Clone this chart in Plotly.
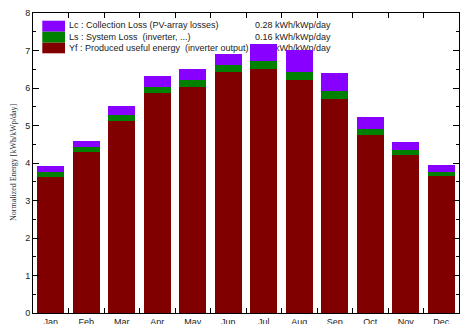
import plotly.graph_objects as go

months = ["Jan", "Feb", "Mar", "Apr", "May", "Jun", "Jul", "Aug", "Sep", "Oct", "Nov", "Dec"]
yf = [3.63, 4.30, 5.11, 5.86, 6.03, 6.42, 6.52, 6.22, 5.71, 4.75, 4.22, 3.66]
ls = [0.12, 0.13, 0.16, 0.18, 0.19, 0.20, 0.20, 0.20, 0.20, 0.15, 0.14, 0.11]
lc = [0.18, 0.17, 0.25, 0.29, 0.29, 0.29, 0.46, 0.59, 0.48, 0.34, 0.20, 0.19]

legend_labels = ["Lc : Collection Loss (PV-array losses)",
                 "Ls : System Loss  (inverter, ...)",
                 "Yf : Produced useful energy  (inverter output)"]
legend_values = ["0.28 kWh/kWp/day", "0.16 kWh/kWp/day", "5.20 kWh/kWp/day"]
colors = ["#8800ff", "#008000", "#800000"]

W, H = 461, 324
L, R, T, B = 33, 2, 13, 11
pw, ph = W - L - R, H - T - B

def px_x(p):
    return (p - L) / pw

def px_y(p):
    return (H - B - p) / ph

fig = go.Figure()

# legend text on base axes (drawn beneath the bars)
row_y = [px_y(26), px_y(37.3), px_y(48.3)]
fig.add_trace(go.Scatter(
    x=[px_x(69)] * 3, y=row_y, text=legend_labels, mode="text",
    textposition="middle right", textfont=dict(size=9, color="#222", family="Liberation Sans, Arial"),
    xaxis="x", yaxis="y", showlegend=False, hoverinfo="skip"))
fig.add_trace(go.Scatter(
    x=[px_x(255)] * 3, y=row_y, text=legend_values, mode="text",
    textposition="middle right", textfont=dict(size=9, color="#222", family="Liberation Sans, Arial"),
    xaxis="x", yaxis="y", showlegend=False, hoverinfo="skip"))

# bars on overlay axes (drawn above)
for vals, col, name in [(yf, colors[2], "Yf"), (ls, colors[1], "Ls"), (lc, colors[0], "Lc")]:
    fig.add_trace(go.Bar(x=months, y=vals, marker=dict(color=col, line=dict(width=0)),
                         name=name, xaxis="x2", yaxis="y2", showlegend=False))

# legend colour boxes
box_edges = [20.7, 31.7, 42.7, 53.3]
for i, col in enumerate(colors):
    fig.add_shape(type="rect", xref="paper", yref="paper",
                  x0=px_x(42.3), x1=px_x(65), y0=px_y(box_edges[i + 1]), y1=px_y(box_edges[i]),
                  fillcolor=col, line=dict(width=0), layer="below")

fig.add_annotation(text="Normalized Energy [kWh/kWp/day]", textangle=-90,
                   xref="paper", yref="paper", x=0, y=0.5, xshift=-20, xanchor="center", yanchor="middle",
                   showarrow=False, font=dict(size=8, family="Liberation Serif, Times New Roman", color="#333"))

tickfont = dict(size=9, family="Liberation Sans, Arial", color="#222")
fig.update_layout(
    width=W, height=H, margin=dict(l=L, r=R, t=T, b=B, autoexpand=False),
    paper_bgcolor="white", plot_bgcolor="white",
    barmode="stack", bargap=0.24,
    xaxis=dict(range=[0, 1], visible=False, fixedrange=True, automargin=False),
    yaxis=dict(range=[0, 1], visible=False, fixedrange=True, automargin=False),
    xaxis2=dict(overlaying="x", type="category", side="bottom", showgrid=False, automargin=False,
                showline=True, linecolor="black", linewidth=1, mirror="allticks",
                ticks="inside", ticklen=5, tickcolor="black", tickson="boundaries",
                tickfont=tickfont, range=[-0.5, 11.5]),
    yaxis2=dict(overlaying="y", side="left", range=[0, 8], dtick=1, showgrid=False, automargin=False,
                showline=True, linecolor="black", linewidth=1, mirror="allticks",
                ticks="inside", ticklen=6, tickcolor="black", tickfont=tickfont,
                minor=dict(dtick=0.5, ticks="inside", ticklen=3, tickcolor="black", showgrid=False),
                zeroline=False),
    showlegend=False,
)

fig.write_html("out.html", config={"displayModeBar": False},
               post_script="document.body.style.margin='0';")
